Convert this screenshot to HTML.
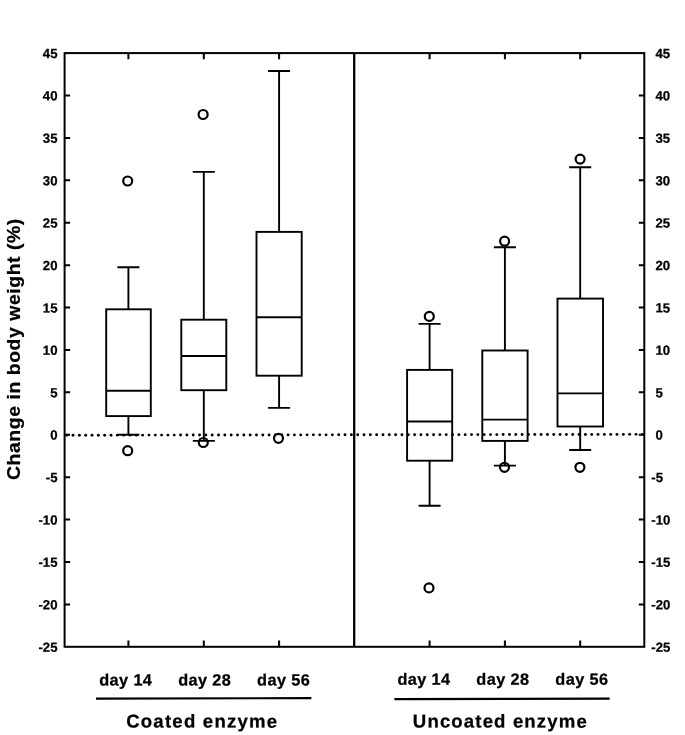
<!DOCTYPE html>
<html lang="en"><head><meta charset="utf-8"><title>Change in body weight</title>
<style>
html,body{margin:0;padding:0;background:#fff;}
body{width:685px;height:735px;overflow:hidden;}
svg{display:block;}
svg{filter:grayscale(1);}
text{font-family:"Liberation Sans",Arial,Helvetica,sans-serif;font-weight:bold;fill:#000;stroke:#000;stroke-width:.25px;stroke-linejoin:round;}
.f{fill:none;stroke:#000;}
</style></head><body>
<svg width="685" height="735" viewBox="0 0 685 735">
<rect x="0" y="0" width="685" height="735" fill="#fff"/>
<g fill="#000">
<circle cx="66.72" cy="435.25" r="1.45"/>
<circle cx="73.05" cy="435.24" r="1.45"/>
<circle cx="79.37" cy="435.23" r="1.45"/>
<circle cx="85.69" cy="435.22" r="1.45"/>
<circle cx="92.02" cy="435.21" r="1.45"/>
<circle cx="98.34" cy="435.20" r="1.45"/>
<circle cx="104.67" cy="435.19" r="1.45"/>
<circle cx="111.00" cy="435.18" r="1.45"/>
<circle cx="117.32" cy="435.17" r="1.45"/>
<circle cx="123.65" cy="435.16" r="1.45"/>
<circle cx="129.97" cy="435.15" r="1.45"/>
<circle cx="136.30" cy="435.14" r="1.45"/>
<circle cx="142.62" cy="435.13" r="1.45"/>
<circle cx="148.94" cy="435.12" r="1.45"/>
<circle cx="155.27" cy="435.11" r="1.45"/>
<circle cx="161.59" cy="435.10" r="1.45"/>
<circle cx="167.92" cy="435.09" r="1.45"/>
<circle cx="174.25" cy="435.08" r="1.45"/>
<circle cx="180.57" cy="435.07" r="1.45"/>
<circle cx="186.89" cy="435.06" r="1.45"/>
<circle cx="193.22" cy="435.05" r="1.45"/>
<circle cx="199.55" cy="435.04" r="1.45"/>
<circle cx="205.87" cy="435.03" r="1.45"/>
<circle cx="212.19" cy="435.02" r="1.45"/>
<circle cx="218.52" cy="435.01" r="1.45"/>
<circle cx="224.84" cy="435.00" r="1.45"/>
<circle cx="231.17" cy="434.99" r="1.45"/>
<circle cx="237.50" cy="434.98" r="1.45"/>
<circle cx="243.82" cy="434.97" r="1.45"/>
<circle cx="250.15" cy="434.96" r="1.45"/>
<circle cx="256.47" cy="434.95" r="1.45"/>
<circle cx="262.80" cy="434.94" r="1.45"/>
<circle cx="269.12" cy="434.93" r="1.45"/>
<circle cx="275.44" cy="434.92" r="1.45"/>
<circle cx="281.77" cy="434.91" r="1.45"/>
<circle cx="288.10" cy="434.90" r="1.45"/>
<circle cx="294.42" cy="434.89" r="1.45"/>
<circle cx="300.75" cy="434.88" r="1.45"/>
<circle cx="307.07" cy="434.87" r="1.45"/>
<circle cx="313.39" cy="434.86" r="1.45"/>
<circle cx="319.72" cy="434.85" r="1.45"/>
<circle cx="326.04" cy="434.84" r="1.45"/>
<circle cx="332.37" cy="434.83" r="1.45"/>
<circle cx="338.70" cy="434.82" r="1.45"/>
<circle cx="345.02" cy="434.81" r="1.45"/>
<circle cx="351.35" cy="434.80" r="1.45"/>
<circle cx="357.67" cy="434.79" r="1.45"/>
<circle cx="364.00" cy="434.78" r="1.45"/>
<circle cx="370.32" cy="434.77" r="1.45"/>
<circle cx="376.64" cy="434.76" r="1.45"/>
<circle cx="382.97" cy="434.75" r="1.45"/>
<circle cx="389.29" cy="434.74" r="1.45"/>
<circle cx="395.62" cy="434.73" r="1.45"/>
<circle cx="401.95" cy="434.73" r="1.45"/>
<circle cx="408.27" cy="434.72" r="1.45"/>
<circle cx="414.60" cy="434.71" r="1.45"/>
<circle cx="420.92" cy="434.70" r="1.45"/>
<circle cx="427.25" cy="434.69" r="1.45"/>
<circle cx="433.57" cy="434.68" r="1.45"/>
<circle cx="439.89" cy="434.67" r="1.45"/>
<circle cx="446.22" cy="434.66" r="1.45"/>
<circle cx="452.54" cy="434.65" r="1.45"/>
<circle cx="458.87" cy="434.64" r="1.45"/>
<circle cx="465.20" cy="434.63" r="1.45"/>
<circle cx="471.52" cy="434.62" r="1.45"/>
<circle cx="477.85" cy="434.61" r="1.45"/>
<circle cx="484.17" cy="434.60" r="1.45"/>
<circle cx="490.50" cy="434.59" r="1.45"/>
<circle cx="496.82" cy="434.58" r="1.45"/>
<circle cx="503.14" cy="434.57" r="1.45"/>
<circle cx="509.47" cy="434.56" r="1.45"/>
<circle cx="515.79" cy="434.55" r="1.45"/>
<circle cx="522.12" cy="434.54" r="1.45"/>
<circle cx="528.45" cy="434.53" r="1.45"/>
<circle cx="534.77" cy="434.52" r="1.45"/>
<circle cx="541.10" cy="434.51" r="1.45"/>
<circle cx="547.42" cy="434.50" r="1.45"/>
<circle cx="553.75" cy="434.49" r="1.45"/>
<circle cx="560.07" cy="434.48" r="1.45"/>
<circle cx="566.39" cy="434.47" r="1.45"/>
<circle cx="572.72" cy="434.46" r="1.45"/>
<circle cx="579.05" cy="434.45" r="1.45"/>
<circle cx="585.37" cy="434.44" r="1.45"/>
<circle cx="591.70" cy="434.43" r="1.45"/>
<circle cx="598.02" cy="434.42" r="1.45"/>
<circle cx="604.35" cy="434.41" r="1.45"/>
<circle cx="610.67" cy="434.40" r="1.45"/>
<circle cx="617.00" cy="434.39" r="1.45"/>
<circle cx="623.32" cy="434.38" r="1.45"/>
<circle cx="629.65" cy="434.37" r="1.45"/>
<circle cx="635.97" cy="434.36" r="1.45"/>
<circle cx="642.30" cy="434.35" r="1.45"/>
</g>
<g fill="#fff" stroke="#000" stroke-width="2.2">
<circle cx="127.7" cy="181.0" r="4.5"/>
<circle cx="127.7" cy="450.7" r="4.5"/>
<circle cx="203.1" cy="114.5" r="4.5"/>
<circle cx="203.3" cy="442.5" r="4.5"/>
<circle cx="278.5" cy="438.3" r="4.5"/>
<circle cx="429.3" cy="316.4" r="4.5"/>
<circle cx="429.0" cy="587.9" r="4.5"/>
<circle cx="504.6" cy="241.2" r="4.5"/>
<circle cx="504.5" cy="467.3" r="4.5"/>
<circle cx="580.1" cy="159.1" r="4.5"/>
<circle cx="579.9" cy="467.3" r="4.5"/>
</g>
<g class="f" stroke-width="1.9" stroke-linecap="butt" stroke-linejoin="miter">
<rect x="106.2" y="309.3" width="44.6" height="106.8"/>
<path d="M106.2 390.8H150.8M128.4 309.3V267.2M117.4 267.2H139.4M128.4 416.1V434.8M117.4 434.8H139.4"/>
<rect x="181.3" y="319.7" width="45.0" height="70.5"/>
<path d="M181.3 356.0H226.3M203.8 319.7V171.9M192.8 171.9H214.8M203.8 390.2V440.9M192.8 440.9H214.8"/>
<rect x="256.5" y="231.9" width="45.2" height="143.8"/>
<path d="M256.5 317.3H301.7M279.1 231.9V71.0M268.1 71.0H290.1M279.1 375.7V407.9M268.1 407.9H290.1"/>
<rect x="407.1" y="369.9" width="45.1" height="90.8"/>
<path d="M407.1 421.5H452.2M429.6 369.9V323.9M418.6 323.9H440.6M429.6 460.7V505.8M418.6 505.8H440.6"/>
<rect x="482.3" y="350.5" width="45.3" height="90.4"/>
<path d="M482.3 419.6H527.6M504.9 350.5V247.3M493.9 247.3H515.9M504.9 440.9V465.6M493.9 465.6H515.9"/>
<rect x="557.5" y="298.6" width="45.5" height="127.9"/>
<path d="M557.5 393.4H603.0M580.2 298.6V167.2M569.2 167.2H591.2M580.2 426.5V450.0M569.2 450.0H591.2"/>
</g>
<g class="f" stroke-width="2.0">
<rect x="64.6" y="53.1" width="579.7" height="593.7"/>
<path d="M64.6 95.51h5.5M644.3 95.51h-5.5M64.6 137.91h5.5M644.3 137.91h-5.5M64.6 180.32h5.5M644.3 180.32h-5.5M64.6 222.73h5.5M644.3 222.73h-5.5M64.6 265.14h5.5M644.3 265.14h-5.5M64.6 307.54h5.5M644.3 307.54h-5.5M64.6 349.95h5.5M644.3 349.95h-5.5M64.6 392.36h5.5M644.3 392.36h-5.5M64.6 434.76h5.5M644.3 434.76h-5.5M64.6 477.17h5.5M644.3 477.17h-5.5M64.6 519.58h5.5M644.3 519.58h-5.5M64.6 561.99h5.5M644.3 561.99h-5.5M64.6 604.39h5.5M644.3 604.39h-5.5M128.4 53.1v6.2M128.4 646.8v-6.2M203.8 53.1v6.2M203.8 646.8v-6.2M279.1 53.1v6.2M279.1 646.8v-6.2M429.6 53.1v6.2M429.6 646.8v-6.2M504.9 53.1v6.2M504.9 646.8v-6.2M580.2 53.1v6.2M580.2 646.8v-6.2"/>
</g>
<line x1="354.2" y1="53.1" x2="354.2" y2="646.8" stroke="#000" stroke-width="2.3"/>
<g font-size="13.2" transform="matrix(1 0.0005 0 1 0 0)">
<text x="57.5" y="57.93" text-anchor="end">45</text>
<text x="655.40" y="57.62">45</text>
<text x="57.5" y="100.33" text-anchor="end">40</text>
<text x="655.40" y="100.03">40</text>
<text x="57.5" y="142.74" text-anchor="end">35</text>
<text x="655.40" y="142.43">35</text>
<text x="57.5" y="185.15" text-anchor="end">30</text>
<text x="655.40" y="184.84">30</text>
<text x="57.5" y="227.55" text-anchor="end">25</text>
<text x="655.40" y="227.25">25</text>
<text x="57.5" y="269.96" text-anchor="end">20</text>
<text x="655.40" y="269.65">20</text>
<text x="57.5" y="312.37" text-anchor="end">15</text>
<text x="655.40" y="312.06">15</text>
<text x="57.5" y="354.78" text-anchor="end">10</text>
<text x="655.40" y="354.47">10</text>
<text x="57.5" y="397.18" text-anchor="end">5</text>
<text x="655.40" y="396.88">5</text>
<text x="57.5" y="439.59" text-anchor="end">0</text>
<text x="655.40" y="439.28">0</text>
<text x="57.5" y="482.00" text-anchor="end">-5</text>
<text x="651.30" y="481.69">-5</text>
<text x="57.5" y="524.40" text-anchor="end">-10</text>
<text x="651.30" y="524.10">-10</text>
<text x="57.5" y="566.81" text-anchor="end">-15</text>
<text x="651.30" y="566.50">-15</text>
<text x="57.5" y="609.22" text-anchor="end">-20</text>
<text x="651.30" y="608.91">-20</text>
<text x="57.5" y="651.62" text-anchor="end">-25</text>
<text x="651.30" y="651.32">-25</text>
</g>
<g font-size="16.3" transform="matrix(1 0.0005 0 1 0 0)">
<text x="99.15" y="685.49" textLength="52.8" lengthAdjust="spacing">day 14</text>
<text x="178.15" y="685.45" textLength="52.7" lengthAdjust="spacing">day 28</text>
<text x="257.05" y="685.41" textLength="52.8" lengthAdjust="spacing">day 56</text>
<text x="397.45" y="684.59" textLength="52.7" lengthAdjust="spacing">day 14</text>
<text x="476.35" y="684.55" textLength="52.8" lengthAdjust="spacing">day 28</text>
<text x="555.35" y="684.51" textLength="52.8" lengthAdjust="spacing">day 56</text>
</g>
<line x1="96.0" y1="698.60" x2="311.4" y2="698.10" stroke="#000" stroke-width="2.2"/>
<line x1="394.4" y1="699.10" x2="609.7" y2="698.60" stroke="#000" stroke-width="2.2"/>
<g font-size="18.6" transform="matrix(1 0.0005 0 1 0 0)">
<text x="126.15" y="727.50" textLength="151.0" lengthAdjust="spacing">Coated enzyme</text>
<text x="412.85" y="727.35" textLength="173.9" lengthAdjust="spacing">Uncoated enzyme</text>
</g>
<text font-size="19.4" transform="translate(20.4 480.0) scale(0.93 1) rotate(-90)" textLength="261.3" lengthAdjust="spacing">Change in body weight (%)</text>
</svg></body></html>
